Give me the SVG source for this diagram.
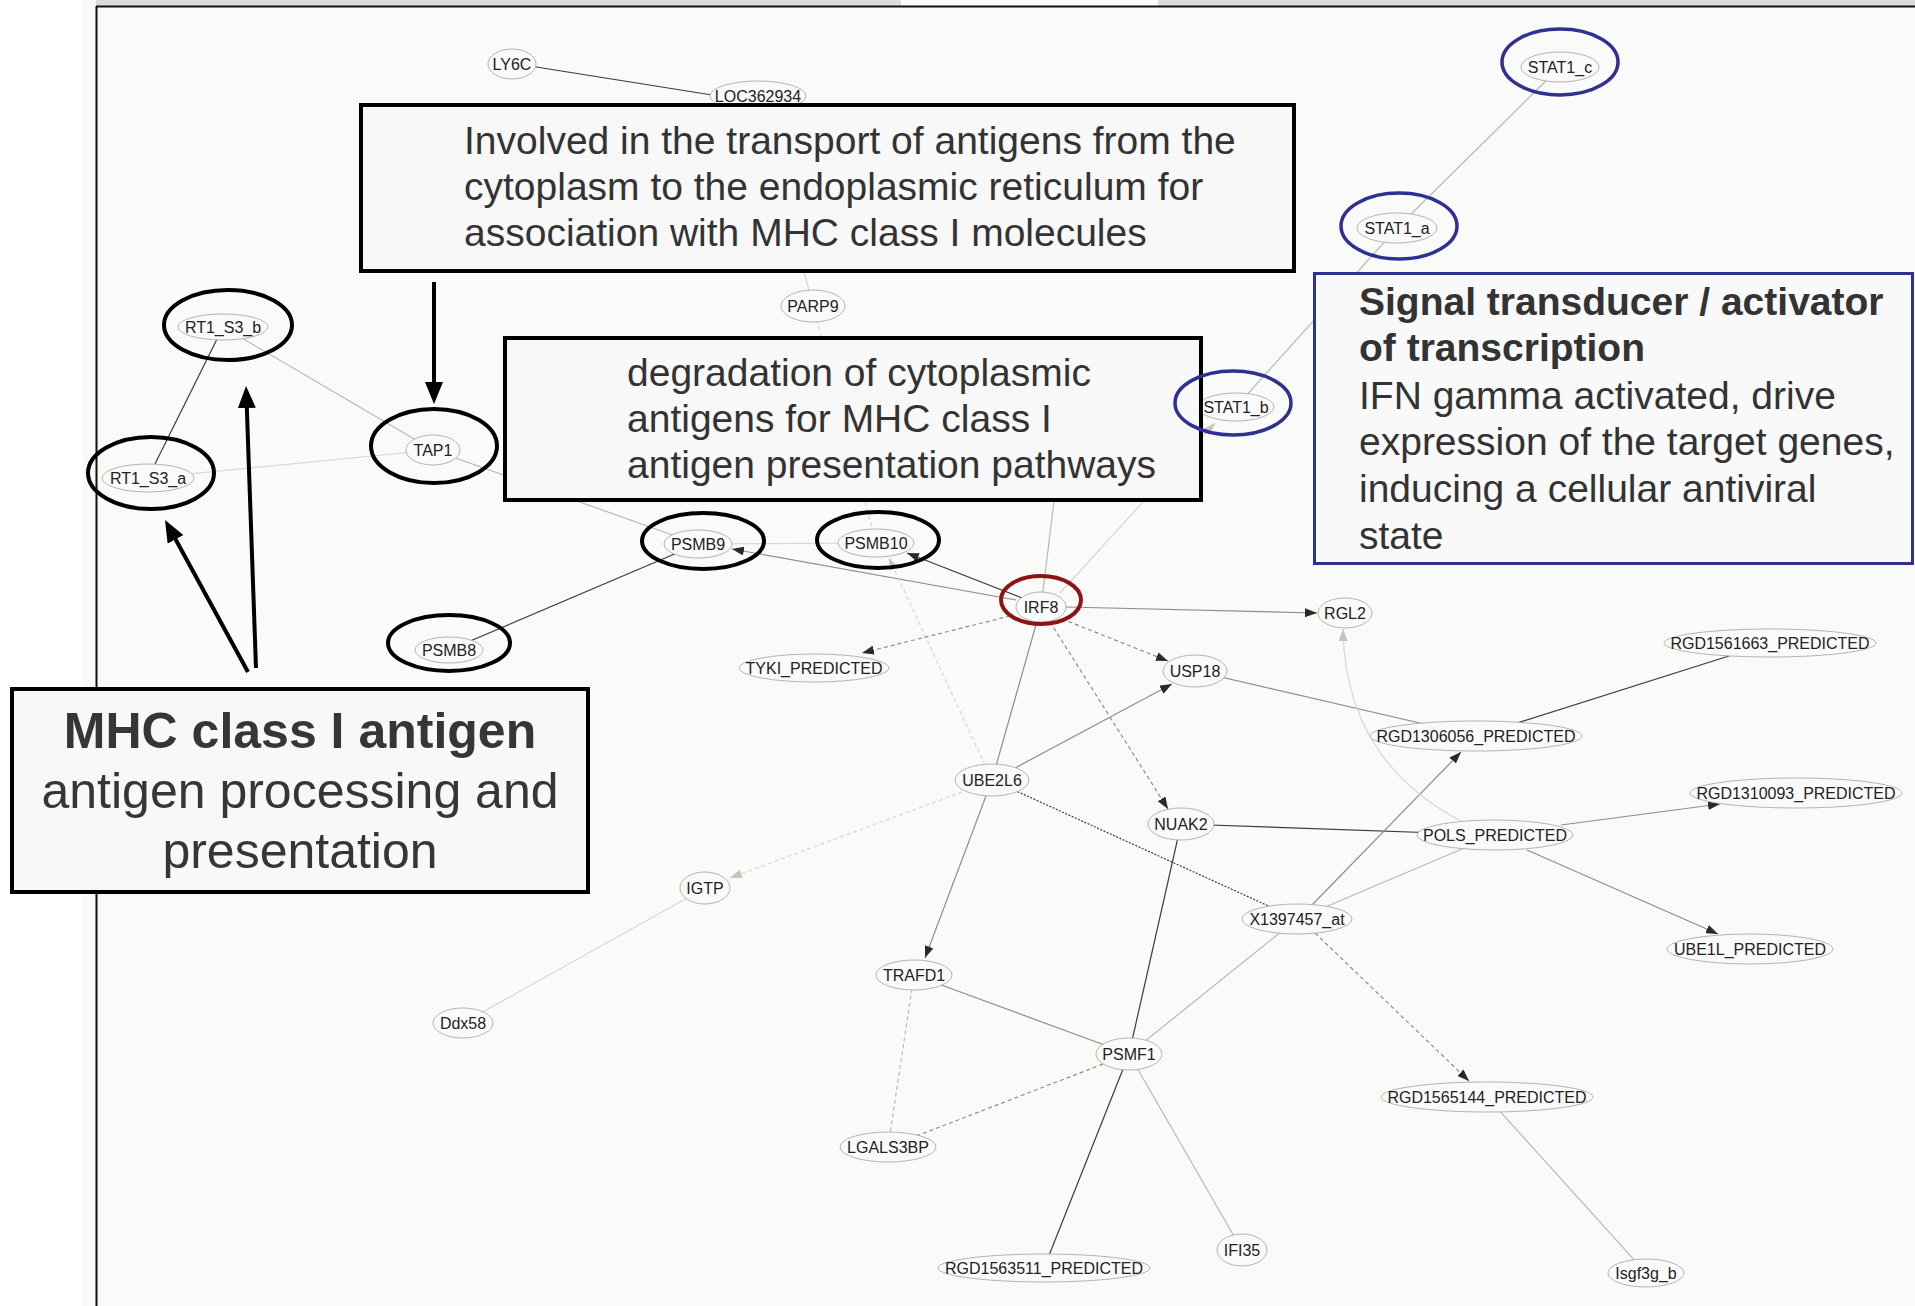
<svg xmlns="http://www.w3.org/2000/svg" width="1915" height="1306" viewBox="0 0 1915 1306">
<defs>
<style>
.node ellipse{fill:#fafafa;stroke:#b4b4b4;stroke-width:1}
.node text{font-family:"Liberation Sans",Arial,sans-serif;font-size:16px;fill:#222;text-anchor:middle}
.e{fill:none;stroke-width:1.2}
.dk{stroke:#3c3c3c}
.md{stroke:#8e8e8e}
.lt{stroke:#b8b8b8}
.vl{stroke:#d9d6d3}
.dash{stroke-dasharray:4 3}
.dot{stroke-dasharray:2 1.5}
.box{fill:#f8f8f9;stroke:#000;stroke-width:4}
.bt{font-family:"Liberation Sans",Arial,sans-serif;font-size:39px;fill:#333}
.bb{font-weight:bold}
.mt{font-family:"Liberation Sans",Arial,sans-serif;font-size:50px;fill:#35353a;text-anchor:middle}
.rk{fill:none;stroke:#000;stroke-width:4}
.rb{fill:none;stroke:#2e3192;stroke-width:3.5}
.rr{fill:none;stroke:#8b1515;stroke-width:4}
.big{fill:none;stroke:#000;stroke-width:4}
</style>
<marker id="ad" markerUnits="userSpaceOnUse" markerWidth="12" markerHeight="9" refX="12" refY="4.5" orient="auto"><path d="M0,0 L12,4.5 L0,9 z" fill="#2a2a2a"/></marker>
<marker id="al" markerUnits="userSpaceOnUse" markerWidth="12" markerHeight="9" refX="12" refY="4.5" orient="auto"><path d="M0,0 L12,4.5 L0,9 z" fill="#cbc3bb"/></marker>
<marker id="big" markerUnits="userSpaceOnUse" markerWidth="22" markerHeight="18" refX="12" refY="9" orient="auto"><path d="M0,0 L22,9 L0,18 z" fill="#000"/></marker>
</defs>

<g id="frame">
<rect x="0" y="0" width="1915" height="1306" fill="#ffffff"/>
<rect x="83" y="0" width="1832" height="1306" fill="#f9f9f9"/>
<rect x="96" y="6" width="1819" height="1300" fill="#fafaf9"/>
<rect x="96" y="0" width="1819" height="6" fill="#dcdcdc"/>
<rect x="901" y="0" width="257" height="6" fill="#fbfbfb"/>
<line x1="96" y1="6.5" x2="1915" y2="6.5" stroke="#111" stroke-width="2"/>
<line x1="96.5" y1="6" x2="96.5" y2="1306" stroke="#111" stroke-width="2"/>
</g>

<g id="connectors">
<line class="e dk" x1="530" y1="66" x2="712" y2="95"/>
<line class="e vl" x1="758" y1="96" x2="813" y2="306"/>
<line class="e dk" x1="148" y1="478" x2="223" y2="327"/>
<line class="e lt" x1="223" y1="327" x2="433" y2="450"/>
<line class="e vl" x1="148" y1="478" x2="433" y2="450"/>
<line class="e lt" x1="433" y1="450" x2="698" y2="544"/>
<line class="e dk" x1="449" y1="650" x2="698" y2="544"/>
<line class="e vl" x1="698" y1="544" x2="876" y2="543"/>
<line class="e vl dash" x1="813" y1="306" x2="876" y2="543"/>
<line class="e lt" x1="1041" y1="607" x2="1064" y2="420"/>
<line class="e lt" x1="1236" y1="407" x2="1397" y2="228"/>
<line class="e lt" x1="1397" y1="228" x2="1560" y2="67"/>
<line class="e md" x1="1041" y1="607" x2="992" y2="780"/>
<line class="e dk dot" x1="992" y1="780" x2="1297" y2="919"/>
<line class="e vl" x1="705" y1="888" x2="463" y2="1023"/>
<line class="e md" x1="1195" y1="671" x2="1476" y2="736"/>
<line class="e dk" x1="1476" y1="736" x2="1770" y2="643"/>
<line class="e dk" x1="1181" y1="824" x2="1495" y2="835"/>
<line class="e dk" x1="1181" y1="824" x2="1129" y2="1054"/>
<line class="e lt" x1="1297" y1="919" x2="1495" y2="835"/>
<line class="e lt" x1="1297" y1="919" x2="1129" y2="1054"/>
<line class="e md" x1="914" y1="975" x2="1129" y2="1054"/>
<line class="e lt dash" x1="914" y1="975" x2="888" y2="1147"/>
<line class="e md dash" x1="1129" y1="1054" x2="888" y2="1147"/>
<line class="e dk" x1="1129" y1="1054" x2="1044" y2="1268"/>
<line class="e lt" x1="1129" y1="1054" x2="1242" y2="1250"/>
<line class="e lt" x1="1487" y1="1097" x2="1646" y2="1273"/>
<path class="e md" d="M1016,600 L732,549" marker-end="url(#ad)"/>
<path class="e dk" d="M1022,598 L907,553" marker-end="url(#ad)"/>
<path class="e vl dash" d="M985,765 L889,558" marker-end="url(#al)"/>
<path class="e vl" d="M1060,593 L1215,423" marker-end="url(#al)"/>
<path class="e md" d="M1066,607 L1317,613" marker-end="url(#ad)"/>
<path class="e md dash" d="M1010,616 L862,653" marker-end="url(#ad)"/>
<path class="e md dash" d="M1062,619 L1168,661" marker-end="url(#ad)"/>
<path class="e md dash" d="M1050,622 L1168,809" marker-end="url(#ad)"/>
<path class="e md" d="M1015,768 L1172,684" marker-end="url(#ad)"/>
<path class="e vl dash" d="M962,792 L730,878" marker-end="url(#al)"/>
<path class="e md" d="M986,796 L925,958" marker-end="url(#ad)"/>
<path class="e md" d="M1312,905 L1461,752" marker-end="url(#ad)"/>
<path class="e vl" d="M1461,821 Q1345,760 1343,629" marker-end="url(#al)"/>
<path class="e md" d="M1561,825 L1720,804" marker-end="url(#ad)"/>
<path class="e md" d="M1527,850 L1718,934" marker-end="url(#ad)"/>
<path class="e md dash" d="M1315,933 L1469,1081" marker-end="url(#ad)"/>
</g>

<g id="nodes">
<g class="node" id="LY6C"><ellipse cx="512" cy="64" rx="24" ry="15"/><text x="512" y="70">LY6C</text></g>
<g class="node" id="LOC362934"><ellipse cx="758" cy="96" rx="48" ry="15"/><text x="758" y="102">LOC362934</text></g>
<g class="node" id="PARP9"><ellipse cx="813" cy="306" rx="32" ry="16"/><text x="813" y="312">PARP9</text></g>
<g class="node" id="RT1_S3_b"><ellipse cx="223" cy="327" rx="45" ry="13"/><text x="223" y="333">RT1_S3_b</text></g>
<g class="node" id="RT1_S3_a"><ellipse cx="148" cy="478" rx="46" ry="14"/><text x="148" y="484">RT1_S3_a</text></g>
<g class="node" id="TAP1"><ellipse cx="433" cy="450" rx="27" ry="15"/><text x="433" y="456">TAP1</text></g>
<g class="node" id="PSMB9"><ellipse cx="698" cy="544" rx="34" ry="14"/><text x="698" y="550">PSMB9</text></g>
<g class="node" id="PSMB10"><ellipse cx="876" cy="543" rx="38" ry="14"/><text x="876" y="549">PSMB10</text></g>
<g class="node" id="PSMB8"><ellipse cx="449" cy="650" rx="34" ry="13"/><text x="449" y="656">PSMB8</text></g>
<g class="node" id="IRF8"><ellipse cx="1041" cy="607" rx="25" ry="15"/><text x="1041" y="613">IRF8</text></g>
<g class="node" id="RGL2"><ellipse cx="1345" cy="613" rx="27" ry="15"/><text x="1345" y="619">RGL2</text></g>
<g class="node" id="TYKI_PREDICTED"><ellipse cx="814" cy="668" rx="75" ry="14"/><text x="814" y="674">TYKI_PREDICTED</text></g>
<g class="node" id="USP18"><ellipse cx="1195" cy="671" rx="32" ry="16"/><text x="1195" y="677">USP18</text></g>
<g class="node" id="STAT1_c"><ellipse cx="1560" cy="67" rx="39" ry="15"/><text x="1560" y="73">STAT1_c</text></g>
<g class="node" id="STAT1_a"><ellipse cx="1397" cy="228" rx="40" ry="15"/><text x="1397" y="234">STAT1_a</text></g>
<g class="node" id="STAT1_b"><ellipse cx="1236" cy="407" rx="38" ry="14"/><text x="1236" y="413">STAT1_b</text></g>
<g class="node" id="RGD1561663_PREDICTED"><ellipse cx="1770" cy="643" rx="106" ry="14"/><text x="1770" y="649">RGD1561663_PREDICTED</text></g>
<g class="node" id="RGD1306056_PREDICTED"><ellipse cx="1476" cy="736" rx="106" ry="15"/><text x="1476" y="742">RGD1306056_PREDICTED</text></g>
<g class="node" id="UBE2L6"><ellipse cx="992" cy="780" rx="37" ry="16"/><text x="992" y="786">UBE2L6</text></g>
<g class="node" id="RGD1310093_PREDICTED"><ellipse cx="1796" cy="793" rx="106" ry="15"/><text x="1796" y="799">RGD1310093_PREDICTED</text></g>
<g class="node" id="NUAK2"><ellipse cx="1181" cy="824" rx="33" ry="16"/><text x="1181" y="830">NUAK2</text></g>
<g class="node" id="POLS_PREDICTED"><ellipse cx="1495" cy="835" rx="78" ry="15"/><text x="1495" y="841">POLS_PREDICTED</text></g>
<g class="node" id="IGTP"><ellipse cx="705" cy="888" rx="25" ry="16"/><text x="705" y="894">IGTP</text></g>
<g class="node" id="X1397457_at"><ellipse cx="1297" cy="919" rx="55" ry="15"/><text x="1297" y="925">X1397457_at</text></g>
<g class="node" id="UBE1L_PREDICTED"><ellipse cx="1750" cy="949" rx="83" ry="15"/><text x="1750" y="955">UBE1L_PREDICTED</text></g>
<g class="node" id="TRAFD1"><ellipse cx="914" cy="975" rx="38" ry="15"/><text x="914" y="981">TRAFD1</text></g>
<g class="node" id="Ddx58"><ellipse cx="463" cy="1023" rx="30" ry="15"/><text x="463" y="1029">Ddx58</text></g>
<g class="node" id="PSMF1"><ellipse cx="1129" cy="1054" rx="33" ry="16"/><text x="1129" y="1060">PSMF1</text></g>
<g class="node" id="RGD1565144_PREDICTED"><ellipse cx="1487" cy="1097" rx="106" ry="15"/><text x="1487" y="1103">RGD1565144_PREDICTED</text></g>
<g class="node" id="LGALS3BP"><ellipse cx="888" cy="1147" rx="48" ry="15"/><text x="888" y="1153">LGALS3BP</text></g>
<g class="node" id="IFI35"><ellipse cx="1242" cy="1250" rx="25" ry="16"/><text x="1242" y="1256">IFI35</text></g>
<g class="node" id="RGD1563511_PREDICTED"><ellipse cx="1044" cy="1268" rx="106" ry="14"/><text x="1044" y="1274">RGD1563511_PREDICTED</text></g>
<g class="node" id="Isgf3g_b"><ellipse cx="1646" cy="1273" rx="38" ry="14"/><text x="1646" y="1279">Isgf3g_b</text></g>
</g>

<g id="annotations">
<g id="box-transport">
<rect class="box" x="361" y="105" width="933" height="166"/>
<text class="bt" x="464" y="154">Involved in the transport of antigens from the</text>
<text class="bt" x="464" y="200">cytoplasm to the endoplasmic reticulum for</text>
<text class="bt" x="464" y="246">association with MHC class I molecules</text>
</g>
<g id="box-degradation">
<rect class="box" x="505" y="338" width="696" height="162"/>
<text class="bt" x="627" y="386">degradation of cytoplasmic</text>
<text class="bt" x="627" y="432">antigens for MHC class I</text>
<text class="bt" x="627" y="478">antigen presentation pathways</text>
</g>
<g id="box-stat">
<rect x="1314.5" y="273.5" width="598" height="290" fill="#f9f9fa" stroke="#2e3192" stroke-width="3"/>
<text class="bt bb" x="1359" y="315">Signal transducer / activator</text>
<text class="bt bb" x="1359" y="361">of transcription</text>
<text class="bt" x="1359" y="409">IFN gamma activated, drive</text>
<text class="bt" x="1359" y="455">expression of the target genes,</text>
<text class="bt" x="1359" y="502">inducing a cellular antiviral</text>
<text class="bt" x="1359" y="549">state</text>
</g>
<g id="box-mhc">
<rect class="box" x="12" y="689" width="576" height="203"/>
<text class="mt bb" x="300" y="748">MHC class I antigen</text>
<text class="mt" x="300" y="808">antigen processing and</text>
<text class="mt" x="300" y="868">presentation</text>
</g>
</g>

<g id="highlights">
<ellipse class="rk" cx="228" cy="325" rx="64" ry="35"/>
<ellipse class="rk" cx="151" cy="473" rx="63" ry="36"/>
<ellipse class="rk" cx="434" cy="446" rx="63" ry="37"/>
<ellipse class="rk" cx="449" cy="643" rx="61" ry="28"/>
<ellipse class="rk" cx="703" cy="541" rx="61" ry="28"/>
<ellipse class="rk" cx="878" cy="540" rx="61" ry="28"/>
<ellipse class="rr" cx="1041" cy="600" rx="40" ry="24"/>
<ellipse class="rb" cx="1560" cy="62" rx="58" ry="33"/>
<ellipse class="rb" cx="1399" cy="226" rx="58" ry="33"/>
<ellipse class="rb" cx="1233" cy="403" rx="58" ry="32"/>
</g>

<g id="callout-arrows">
<line class="big" x1="434" y1="282" x2="434" y2="394" marker-end="url(#big)"/>
<line class="big" x1="256" y1="668" x2="246.4" y2="396" marker-end="url(#big)"/>
<line class="big" x1="248" y1="672" x2="169.8" y2="528.8" marker-end="url(#big)"/>
</g>
</svg>
